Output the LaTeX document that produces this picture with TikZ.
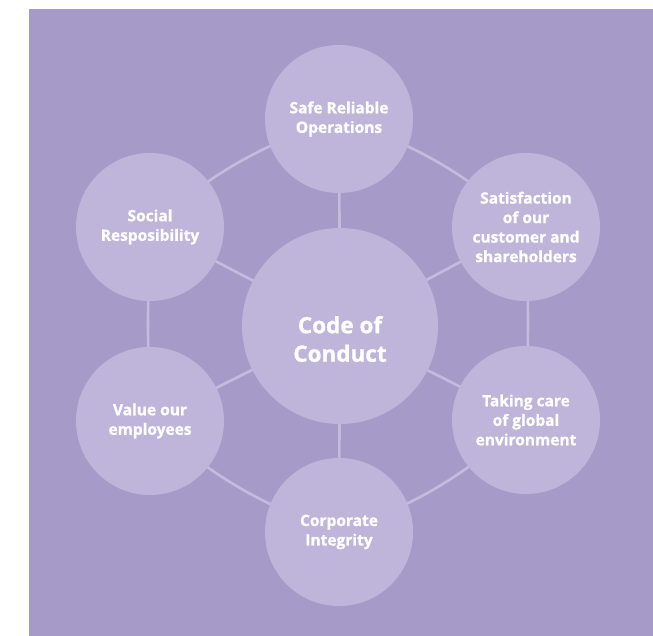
\documentclass[tikz,border=0pt]{standalone}
\usepackage{fontspec}
\setmainfont{Open Sans}[BoldFeatures={FakeBold=1}]
\begin{document}
\begin{tikzpicture}[x=1pt,y=1pt,
  outer/.style={circle,fill=circfill,minimum size=148pt,inner sep=0pt,text=white,align=center,font=\bfseries\fontsize{15.5}{19.5}\selectfont},
  centre/.style={circle,fill=circfill,minimum size=196pt,inner sep=0pt},
  centretext/.style={text=white,align=center,inner sep=0pt,font=\bfseries\fontsize{22.5}{28.5}\selectfont},
  link/.style={draw=linecol,line width=2.6pt}]
\definecolor{bgpurple}{HTML}{A69BC8}
\definecolor{circfill}{HTML}{BFB5DA}
\definecolor{linecol}{HTML}{C4BBDE}
\useasboundingbox (0,0) rectangle (653,636);
\fill[bgpurple] (29,0) rectangle (653,627);
\coordinate (pc) at (340,310);
\coordinate (pt) at (339,517);
\coordinate (prt) at (526,409);
\coordinate (prb) at (526,216);
\coordinate (pb) at (339,104);
\coordinate (plb) at (150,215);
\coordinate (plt) at (150,409);
% ring
\draw[link] (pt) to[bend left=11] (prt);
\draw[link] (prt) to[bend left=2] (prb);
\draw[link] (prb) to[bend left=11] (pb);
\draw[link] (pb) to[bend left=11] (plb);
\draw[link] (plb) to[bend left=2] (plt);
\draw[link] (plt) to[bend left=11] (pt);
% spokes
\foreach \p in {pt,prt,prb,pb,plb,plt} \draw[link] (pc) -- (\p);
\node[centre] (c) at (pc) {};
\node[centretext] (ct) at ([yshift=-13pt]pc) {Code of\\Conduct};
\node[outer] (t) at (pt) {Safe Reliable\\Operations};
\node[outer] (rt) at (prt) {Satisfaction\\of our\\customer and\\shareholders};
\node[outer] (rb) at (prb) {Taking care\\of global\\environment};
\node[outer] (b) at (pb) {Corporate\\Integrity};
\node[outer] (lb) at (plb) {Value our\\employees};
\node[outer] (lt) at (plt) {Social\\Resposibility};
\end{tikzpicture}
\end{document}
